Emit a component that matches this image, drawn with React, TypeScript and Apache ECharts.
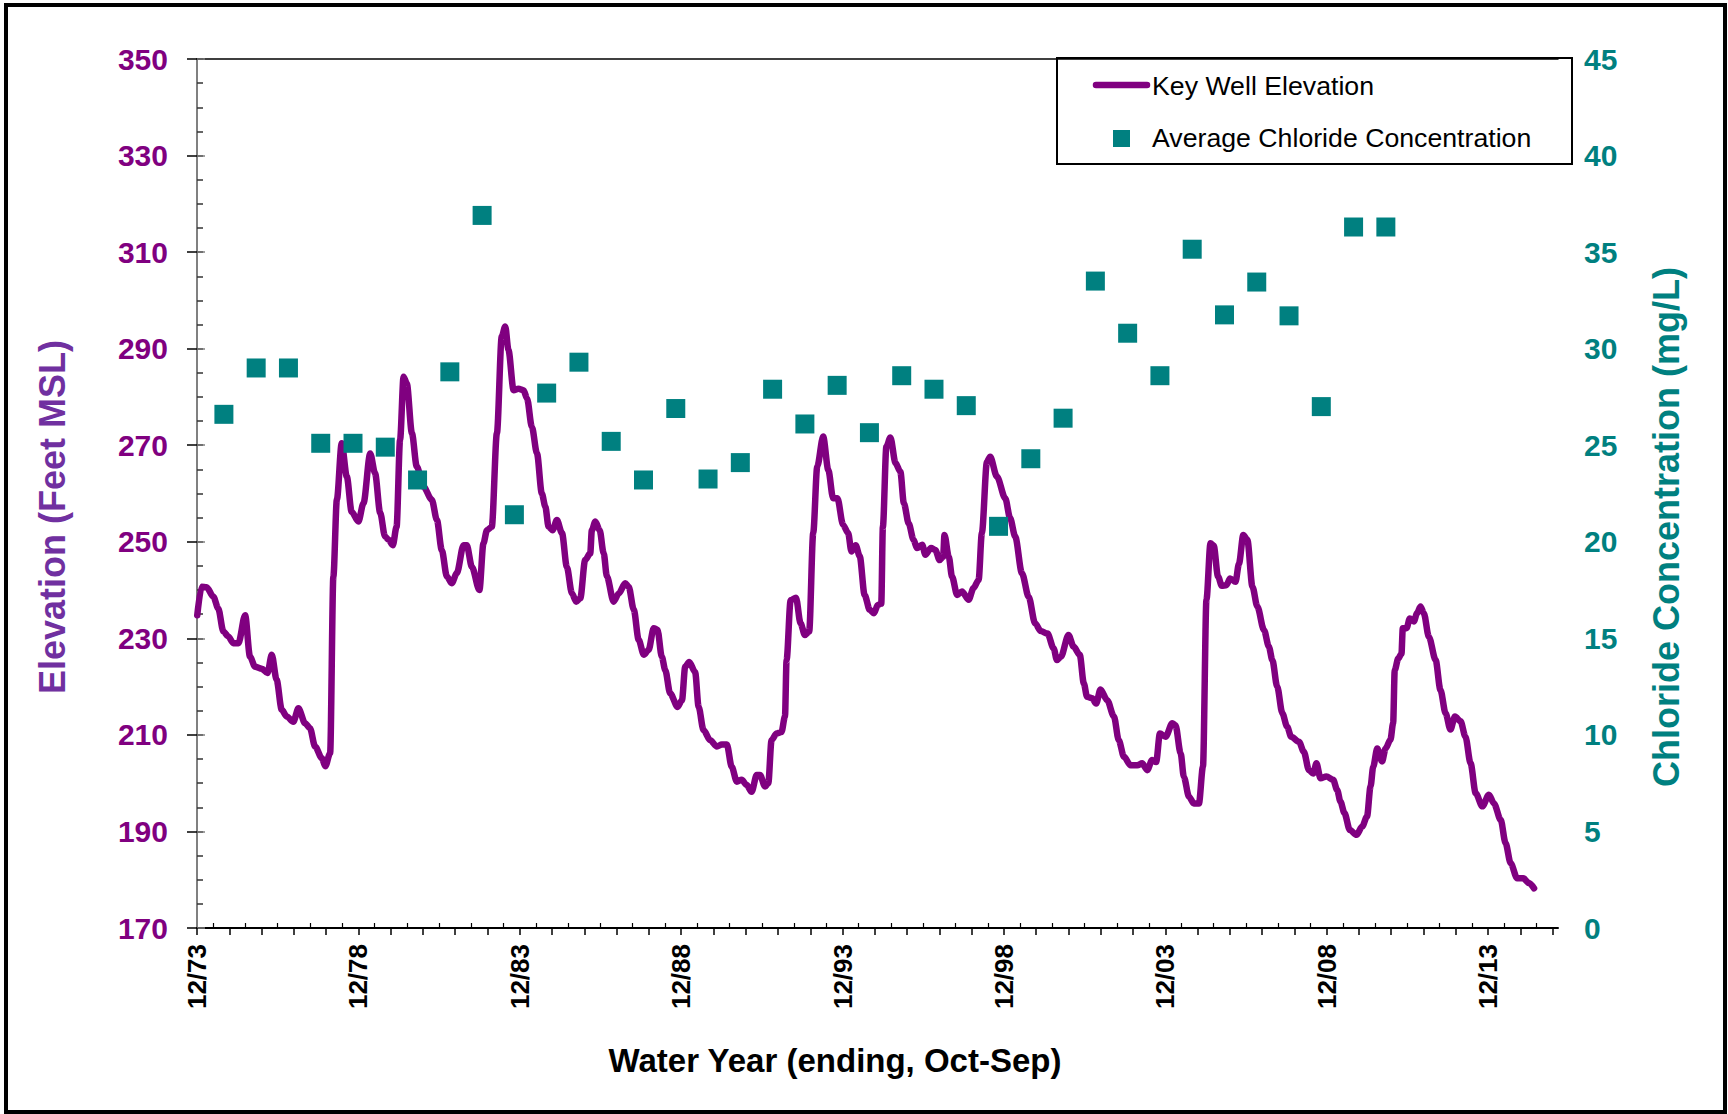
import React, { useEffect, useRef } from "react";
import * as echarts from "echarts";

// x axis: months since Dec 1973
const X_TICK_LABELS = ["12/73", "12/78", "12/83", "12/88", "12/93", "12/98", "12/03", "12/08", "12/13"];
const X_MAX_MONTHS = 506;
const ELEV_TICK_LABELS = [170, 190, 210, 230, 250, 270, 290, 310, 330, 350];
const CHLORIDE_TICK_LABELS = [0, 5, 10, 15, 20, 25, 30, 35, 40, 45];

const ELEV_MONTHS = [
  0.1, 1.7, 3.6, 6.1, 7.9, 9.8, 11.6, 13.5, 15.4, 17.9, 19.7, 21.6, 24.1, 26.2, 27.8, 29.6, 31.5, 33.4, 35.8, 37.7,
  40.2, 42.0, 43.9, 46.4, 47.7, 49.5, 50.7, 52.0, 53.8, 55.7, 57.5, 60.0, 61.9, 64.4, 66.2, 68.1, 69.9, 71.2, 72.8, 74.2,
  75.5, 76.8, 78.0, 79.9, 81.7, 84.2, 87.3, 89.2, 91.0, 92.9, 94.7, 96.6, 99.1, 100.3, 102.2, 105.0, 106.5, 107.8, 109.6, 111.5,
  113.3, 114.6, 115.8, 117.7, 119.5, 121.4, 122.7, 124.5, 126.4, 128.2, 129.5, 130.7, 132.2, 133.8, 135.7, 137.5, 139.4, 141.0, 142.5, 144.3,
  146.2, 146.8, 148.1, 149.7, 151.2, 152.4, 154.9, 156.8, 159.2, 160.5, 162.4, 164.2, 166.1, 167.9, 169.8, 171.2, 172.8, 174.1, 175.9, 178.7,
  180.3, 181.5, 183.0, 185.2, 186.5, 188.3, 190.8, 193.3, 195.1, 197.0, 198.8, 200.7, 202.5, 204.4, 206.2, 208.1, 209.3, 211.2, 212.4, 213.6,
  215.5, 217.3, 218.6, 219.2, 220.7, 222.7, 224.4, 226.0, 227.6, 229.1, 230.6, 232.8, 234.7, 236.5, 238.1, 240.2, 242.1, 243.3, 244.9, 246.4,
  248.2, 250.1, 251.7, 253.1, 254.4, 255.0, 256.3, 257.8, 259.7, 261.5, 262.8, 264.6, 266.4, 267.7, 269.6, 270.8, 272.9, 274.5, 276.1, 277.4,
  277.9, 279.5, 280.7, 282.6, 284.4, 286.9, 288.7, 290.6, 291.8, 293.7, 294.9, 297.4, 300.5, 302.3, 304.2, 306.7, 309.2, 311.6, 313.7, 316.2,
  318.5, 319.7, 321.2, 324.0, 325.9, 328.2, 329.7, 330.9, 332.8, 334.3, 335.9, 338.4, 340.9, 342.7, 344.6, 347.1, 349.6, 351.4, 353.3, 355.1,
  356.6, 358.0, 360.1, 362.6, 363.8, 365.7, 366.9, 368.8, 370.6, 372.5, 374.0, 375.3, 376.8, 378.0, 379.6, 381.0, 382.7, 384.1, 386.1, 387.4,
  389.0, 390.5, 392.4, 394.2, 396.7, 398.5, 399.8, 401.6, 403.5, 405.3, 406.8, 409.7, 411.5, 413.4, 415.0, 416.2, 417.7, 419.9, 422.4, 423.9,
  425.1, 426.6, 428.6, 431.1, 433.2, 435.0, 436.3, 437.3, 438.8, 440.6, 441.9, 443.7, 444.7, 445.3, 446.6, 447.8, 448.3, 449.7, 450.9, 452.4,
  453.6, 454.9, 456.1, 458.0, 460.5, 462.3, 464.2, 466.0, 467.7, 469.8, 471.6, 473.5, 475.4, 477.9, 480.3, 482.2, 484.7, 486.5, 488.4, 490.8,
  493.1, 495.2, 497.1,
];
const ELEV_FEET = [
  234.8, 240.7, 240.6, 238.6, 236.2, 231.4, 230.4, 229.0, 229.0, 234.8, 226.2, 224.1, 223.7, 222.8, 226.6, 221.4, 215.2, 213.8, 212.7, 215.5,
  212.4, 211.4, 207.6, 205.2, 203.5, 206.2, 242.8, 258.7, 270.4, 263.5, 256.2, 254.2, 258.0, 268.3, 264.2, 256.0, 251.1, 250.4, 249.3, 253.1,
  271.1, 284.2, 282.8, 272.5, 265.6, 261.4, 258.7, 254.5, 248.3, 242.8, 241.4, 243.5, 249.3, 249.3, 244.8, 240.0, 249.7, 252.4, 253.1, 272.5,
  292.5, 294.6, 289.7, 281.4, 281.7, 281.4, 279.7, 273.8, 268.3, 260.0, 257.3, 253.1, 252.4, 254.5, 251.8, 244.8, 239.3, 237.6, 238.3, 246.2,
  247.6, 252.4, 254.2, 252.4, 247.6, 242.8, 237.6, 239.3, 241.4, 240.7, 235.9, 229.7, 226.6, 227.6, 232.1, 231.8, 226.2, 223.4, 218.6, 215.8,
  217.2, 224.1, 225.1, 223.0, 215.8, 211.0, 208.9, 207.6, 208.0, 208.0, 203.4, 200.3, 200.7, 199.6, 198.2, 201.7, 201.7, 199.3, 200.0, 208.9,
  210.3, 210.6, 213.8, 225.5, 237.9, 238.4, 233.1, 230.7, 231.4, 251.8, 265.6, 271.8, 264.9, 259.0, 259.0, 253.5, 251.8, 248.0, 249.3, 247.0,
  239.0, 235.9, 235.2, 236.9, 237.2, 253.1, 269.7, 271.6, 266.3, 264.5, 258.0, 253.8, 250.4, 248.7, 249.4, 247.3, 248.7, 248.3, 246.2, 246.9,
  251.4, 246.9, 242.8, 239.0, 239.7, 238.0, 240.4, 242.1, 251.8, 266.6, 267.6, 263.5, 259.0, 254.9, 251.1, 243.5, 238.6, 233.1, 231.5, 231.0,
  227.9, 225.5, 226.2, 230.7, 228.3, 226.6, 220.7, 217.9, 217.6, 216.5, 219.4, 217.2, 213.8, 208.9, 205.5, 203.7, 203.7, 204.1, 202.7, 204.8,
  204.4, 210.3, 209.6, 212.4, 212.0, 206.2, 201.3, 197.2, 195.8, 195.8, 203.4, 238.0, 249.7, 249.2, 242.8, 240.9, 241.0, 242.4, 241.7, 245.5,
  251.4, 250.4, 240.7, 236.6, 231.7, 228.3, 225.5, 220.0, 214.5, 211.7, 209.6, 208.6, 206.5, 202.7, 202.0, 204.1, 201.0, 201.4, 200.7, 198.6,
  196.2, 193.8, 190.3, 189.3, 191.0, 193.1, 199.3, 203.4, 207.2, 204.5, 207.2, 209.0, 212.4, 223.4, 225.8, 226.8, 232.1, 232.1, 234.1, 233.5,
  235.2, 236.6, 235.2, 230.3, 225.5, 219.3, 214.5, 211.1, 213.8, 212.8, 209.6, 204.1, 197.9, 195.2, 197.6, 195.8, 192.4, 187.6, 183.4, 180.3,
  180.3, 179.3, 178.2,
];

// Water years 1974..2010, plotted at end of water year (Sep 30)
const CHLORIDE_YEARS = [
  1974, 1975, 1976, 1977, 1978, 1979, 1980, 1981, 1982, 1983, 1984, 1985, 1986, 1987, 1988, 1989, 1990, 1991, 1992,
  1993, 1994, 1995, 1996, 1997, 1998, 1999, 2000, 2001, 2002, 2003, 2004, 2005, 2006, 2007, 2008, 2009, 2010,
];
const CHLORIDE_MGL = [
  26.6, 29.0, 29.0, 25.1, 25.1, 24.9, 23.2, 28.8, 36.9, 21.4, 27.7, 29.3, 25.2, 23.2, 26.9, 23.25, 24.1, 27.9, 26.1,
  28.1, 25.65, 28.6, 27.9, 27.05, 20.8, 24.3, 26.4, 33.5, 30.8, 28.6, 35.15, 31.75, 33.45, 31.7, 27.0, 36.3, 36.3,
];

const PURPLE = "#800080";
const TITLE_PURPLE = "#7030A0";
const TEAL = "#008080";
const FONT = "'Liberation Sans', Arial, sans-serif";

export default function App() {
  const ref = useRef<HTMLDivElement>(null);

  useEffect(() => {
    if (!ref.current) return;
    const chart = echarts.init(ref.current, null, { renderer: "svg" });

    const yearTicks: number[] = [];
    for (let m = 0; m <= 504; m += 12) yearTicks.push(m);
    const halfYearTicks: number[] = [];
    for (let m = 6; m <= 504; m += 12) halfYearTicks.push(m);
    const labelValues = X_TICK_LABELS.map((_, i) => i * 60);

    const lineData = ELEV_MONTHS.map((m, i) => [m, ELEV_FEET[i]]);
    const scatterData = CHLORIDE_YEARS.map((y, i) => [(y - 1974) * 12 + 10, CHLORIDE_MGL[i]]);

    chart.setOption({
      animation: false,
      backgroundColor: "#ffffff",
      grid: { left: 197, right: 170, top: 59, bottom: 186, containLabel: false },
      xAxis: [
        {
          type: "value",
          min: 0,
          max: X_MAX_MONTHS,
          position: "bottom",
          axisLine: { show: true, lineStyle: { color: "#000", width: 2 } },
          axisTick: { show: true, inside: false, length: 7, lineStyle: { color: "#000", width: 1.5 }, customValues: yearTicks },
          axisLabel: {
            show: true,
            customValues: labelValues,
            rotate: 90,
            margin: 16,
            color: "#000",
            fontWeight: "bold",
            fontSize: 26,
            fontFamily: FONT,
            formatter: (v: number) => {
              const idx = Math.round(v / 60);
              return X_TICK_LABELS[idx] ?? "";
            },
          },
          splitLine: { show: false },
        },
        {
          type: "value",
          min: 0,
          max: X_MAX_MONTHS,
          position: "bottom",
          axisLine: { show: false },
          axisTick: { show: true, inside: true, length: 5, lineStyle: { color: "#000", width: 1.2 }, customValues: halfYearTicks },
          axisLabel: { show: false },
          splitLine: { show: false },
        },
        {
          type: "value",
          min: 0,
          max: X_MAX_MONTHS,
          position: "top",
          axisLine: { show: true, lineStyle: { color: "#000", width: 1.5 } },
          axisTick: { show: false },
          axisLabel: { show: false },
          splitLine: { show: false },
        },
      ],
      yAxis: [
        {
          type: "value",
          min: ELEV_TICK_LABELS[0],
          max: ELEV_TICK_LABELS[ELEV_TICK_LABELS.length - 1],
          interval: 20,
          position: "left",
          axisLine: { show: true, lineStyle: { color: "#000", width: 2 } },
          axisTick: { show: true, inside: false, length: 10, lineStyle: { color: "#000", width: 1.5 } },
          axisLabel: {
            margin: 29,
            color: PURPLE,
            fontWeight: "bold",
            fontSize: 30,
            fontFamily: FONT,
          },
          splitLine: { show: false },
        },
        {
          type: "value",
          min: ELEV_TICK_LABELS[0],
          max: ELEV_TICK_LABELS[ELEV_TICK_LABELS.length - 1],
          interval: 20,
          position: "left",
          axisLine: { show: false },
          axisTick: { show: true, inside: true, length: 6, lineStyle: { color: "#000", width: 1.5 } },
          minorTick: { show: true, splitNumber: 4, length: 6, lineStyle: { color: "#333", width: 1.5 } },
          axisLabel: { show: false },
          splitLine: { show: false },
        },
        {
          type: "value",
          min: CHLORIDE_TICK_LABELS[0],
          max: CHLORIDE_TICK_LABELS[CHLORIDE_TICK_LABELS.length - 1],
          interval: 5,
          position: "right",
          axisLine: { show: true, lineStyle: { color: "#808080", width: 2 } },
          axisTick: { show: true, inside: false, length: 8, lineStyle: { color: "#808080", width: 1.5 } },
          axisLabel: {
            margin: 26,
            color: TEAL,
            fontWeight: "bold",
            fontSize: 30,
            fontFamily: FONT,
          },
          splitLine: { show: false },
        },
      ],
      series: [
        {
          name: "Key Well Elevation",
          type: "line",
          xAxisIndex: 0,
          yAxisIndex: 0,
          data: lineData,
          showSymbol: false,
          symbol: "none",
          smooth: 0.3,
          smoothMonotone: "x",
          lineStyle: { color: PURPLE, width: 6.5, cap: "round", join: "round" },
          itemStyle: { color: PURPLE },
          z: 2,
        },
        {
          name: "Average Chloride Concentration",
          type: "scatter",
          xAxisIndex: 0,
          yAxisIndex: 2,
          data: scatterData,
          symbol: "rect",
          symbolSize: 19,
          itemStyle: { color: TEAL, opacity: 1 },
          z: 3,
        },
      ],
      graphic: [
        {
          type: "rect",
          z: 100,
          silent: true,
          shape: { x: 6, y: 5, width: 1719, height: 1107 },
          style: { fill: "none", stroke: "#000", lineWidth: 4 },
        },
        {
          type: "rect",
          z: 100,
          silent: true,
          shape: { x: 1057, y: 58, width: 515, height: 106 },
          style: { fill: "none", stroke: "#000", lineWidth: 2 },
        },
        {
          type: "line",
          z: 100,
          silent: true,
          shape: { x1: 1096, y1: 85, x2: 1147, y2: 85 },
          style: { stroke: PURPLE, lineWidth: 6.5, lineCap: "round" },
        },
        {
          type: "text",
          z: 100,
          silent: true,
          x: 1152,
          y: 86,
          style: {
            text: "Key Well Elevation",
            fill: "#000",
            font: `26.7px ${FONT}`,
            textAlign: "left",
            textVerticalAlign: "middle",
          },
        },
        {
          type: "rect",
          z: 100,
          silent: true,
          shape: { x: 1113, y: 130, width: 17, height: 17 },
          style: { fill: TEAL },
        },
        {
          type: "text",
          z: 100,
          silent: true,
          x: 1152,
          y: 138,
          style: {
            text: "Average Chloride Concentration",
            fill: "#000",
            font: `26.7px ${FONT}`,
            textAlign: "left",
            textVerticalAlign: "middle",
          },
        },
        {
          type: "text",
          z: 100,
          silent: true,
          x: 52,
          y: 517,
          rotation: Math.PI / 2,
          style: {
            text: "Elevation (Feet MSL)",
            fill: TITLE_PURPLE,
            font: `bold 36px ${FONT}`,
            textAlign: "center",
            textVerticalAlign: "middle",
          },
        },
        {
          type: "text",
          z: 100,
          silent: true,
          x: 1666,
          y: 527,
          rotation: Math.PI / 2,
          style: {
            text: "Chloride Concentration (mg/L)",
            fill: TEAL,
            font: `bold 36px ${FONT}`,
            textAlign: "center",
            textVerticalAlign: "middle",
          },
        },
        {
          type: "text",
          z: 100,
          silent: true,
          x: 835,
          y: 1060,
          style: {
            text: "Water Year (ending, Oct-Sep)",
            fill: "#000",
            font: `bold 33px ${FONT}`,
            textAlign: "center",
            textVerticalAlign: "middle",
          },
        },
      ],
    });

    return () => {
      chart.dispose();
    };
  }, []);

  return (
    <div
      ref={ref}
      style={{ position: "absolute", left: 0, top: 0, width: 1728, height: 1114, background: "#fff" }}
    />
  );
}
